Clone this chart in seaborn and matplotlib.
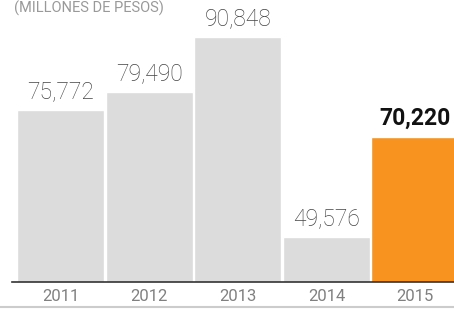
import matplotlib
matplotlib.use("Agg")
import matplotlib.pyplot as plt
import pandas as pd
import seaborn as sns

years = ["2011", "2012", "2013", "2014", "2015"]
values = [75772, 79490, 90848, 49576, 70220]
bar_colors = ["#dcdcdd", "#dcdcdd", "#dcdcdd", "#dcdcdd", "#f7931e"]
subtitle = "(MILLONES DE PESOS)"

df = pd.DataFrame({"year": years, "value": values})

sns.set_theme(style="white")
plt.rcParams["font.family"] = ["Roboto", "DejaVu Sans"]

fig = plt.figure(figsize=(4.54, 3.09), dpi=100)
ax = fig.add_axes([12 / 454, 27 / 309, 442 / 454, 282 / 309])

sns.barplot(data=df, x="year", y="value", hue="year", palette=bar_colors,
            legend=False, width=0.985, saturation=1, ax=ax)

ax.set_xlim(-0.55, 4.44)
ax.set_ylim(40290, 98480)
ax.set_xlabel("")
ax.set_ylabel("")
ax.set_yticks([])
for s in ["top", "right", "left"]:
    ax.spines[s].set_visible(False)
ax.spines["bottom"].set_color("#333333")
ax.spines["bottom"].set_linewidth(1.2)
ax.tick_params(axis="x", length=0, pad=5, labelsize=12, labelcolor="#808080")

for i, (yr, v) in enumerate(zip(years, values)):
    last = i == len(values) - 1
    ax.annotate(f"{v:,}", (i, v), xytext=(0, 5), textcoords="offset points",
                ha="center", va="bottom", fontsize=16.5,
                fontweight="bold" if last else "light",
                color="#111111" if last else "#444444")

fig.text(14 / 454, 1 - 0.5 / 309, subtitle, ha="left", va="top",
         fontsize=10.5, color="#999999")
fig.add_artist(plt.Line2D([0, 1], [2 / 309, 2 / 309], color="#cccccc", lw=1.5))

fig.savefig("out.png", dpi=100)
